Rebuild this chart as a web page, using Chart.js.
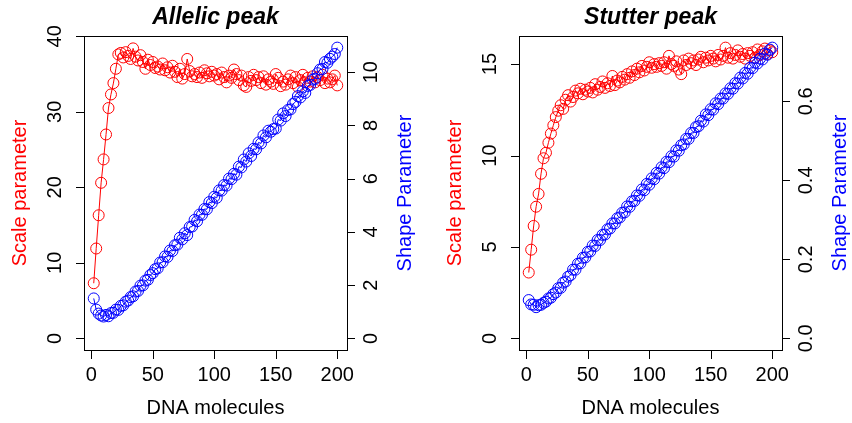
<!DOCTYPE html>
<html>
<head>
<meta charset="utf-8">
<script src="https://cdn.jsdelivr.net/npm/chart.js@4.4.1/dist/chart.umd.min.js"></script>
<style>
  html, body { margin: 0; padding: 0; background: #fff; overflow: hidden; }
  #wrap { position: relative; width: 852px; height: 423px; overflow: hidden; }
  canvas { position: absolute; top: 0; }
</style>
</head>
<body>
<div id="wrap">
  <canvas id="allelic" width="426" height="423" style="left:0px"></canvas>
  <canvas id="stutter" width="417" height="423" style="left:435px"></canvas>
</div>
<script>
// DNA molecules (x), shared by both panels
const molecules = [2,4,6,8,10,12,14,16,18,20,22,24,26,28,30,32,34,36,38,40,
  42,44,46,48,50,52,54,56,58,60,62,64,66,68,70,72,74,76,78,80,
  82,84,86,88,90,92,94,96,98,100,102,104,106,108,110,112,114,116,118,120,
  122,124,126,128,130,132,134,136,138,140,142,144,146,148,150,152,154,156,158,160,
  162,164,166,168,170,172,174,176,178,180,182,184,186,188,190,192,194,196,198,200];

// Allelic peak
const allelicScale = [7.3,11.9,16.3,20.6,23.7,27.0,30.5,32.3,33.8,35.7,
  37.6,37.8,37.2,37.9,37.4,37.0,38.4,37.3,36.8,37.5,
  36.6,35.7,36.9,36.2,36.6,35.8,36.0,35.6,36.4,35.5,
  35.9,35.2,36.1,35.3,34.6,35.7,34.4,35.0,37.0,35.4,
  34.7,35.0,34.6,35.2,34.5,35.5,35.1,34.7,35.3,34.8,
  35.0,34.3,35.2,34.6,33.9,34.8,34.5,35.6,35.0,34.2,
  34.8,33.5,33.3,34.6,34.1,34.9,34.2,34.6,33.8,34.7,
  33.6,34.3,34.0,33.7,35.0,34.5,33.4,34.0,33.6,34.3,
  34.8,33.8,34.6,33.3,34.2,34.9,33.9,34.5,34.0,34.7,
  33.9,34.6,34.2,34.9,33.8,34.4,33.9,34.3,34.8,33.5];
const allelicShape = [1.50,1.08,0.93,0.86,0.82,0.88,0.83,0.95,0.96,1.08,
  1.07,1.22,1.24,1.38,1.42,1.55,1.58,1.76,1.78,1.98,
  1.99,2.17,2.20,2.38,2.45,2.60,2.63,2.85,2.86,3.08,
  3.06,3.30,3.28,3.50,3.52,3.78,3.72,3.95,3.88,4.18,
  4.20,4.45,4.40,4.65,4.64,4.86,4.85,5.12,5.08,5.32,
  5.28,5.56,5.55,5.76,5.74,6.00,5.98,6.18,6.15,6.45,
  6.42,6.72,6.64,6.95,6.85,7.12,7.10,7.36,7.32,7.62,
  7.55,7.80,7.76,7.86,7.88,8.22,8.18,8.45,8.35,8.58,
  8.60,8.80,8.88,9.10,9.05,9.28,9.22,9.48,9.52,9.72,
  9.75,9.96,10.10,10.12,10.38,10.35,10.50,10.58,10.68,10.92];

// Stutter peak
const stutterScale = [3.6,4.85,6.15,7.2,7.9,9.0,9.85,10.15,10.7,11.2,
  11.65,12.1,12.45,12.75,12.55,13.05,13.3,12.95,13.2,13.55,
  13.4,13.65,13.35,13.6,13.5,13.7,13.45,13.9,13.6,13.75,
  14.05,13.7,13.95,13.8,14.35,13.85,14.1,14.0,14.3,14.15,
  14.45,14.25,14.6,14.4,14.75,14.55,14.9,14.65,14.85,15.1,
  14.8,15.0,14.85,15.05,14.9,15.1,14.75,15.45,15.0,14.9,
  15.15,14.7,14.45,15.2,14.95,15.3,15.05,15.2,14.95,15.25,
  15.4,15.1,15.35,15.2,15.45,15.3,15.15,15.5,15.25,15.45,
  15.9,15.35,15.6,15.3,15.5,15.75,15.4,15.55,15.3,15.6,
  15.45,15.65,15.35,15.8,15.5,15.7,15.85,15.55,15.75,15.65];
const stutterShape = [0.097,0.086,0.085,0.079,0.084,0.085,0.090,0.093,0.101,0.103,
  0.112,0.116,0.127,0.128,0.141,0.144,0.156,0.160,0.174,0.174,
  0.189,0.190,0.204,0.205,0.219,0.220,0.235,0.234,0.249,0.249,
  0.262,0.263,0.276,0.278,0.291,0.291,0.304,0.306,0.318,0.319,
  0.334,0.333,0.347,0.348,0.362,0.361,0.377,0.375,0.391,0.389,
  0.405,0.403,0.419,0.417,0.433,0.431,0.447,0.446,0.461,0.460,
  0.476,0.475,0.489,0.491,0.505,0.505,0.520,0.520,0.535,0.537,
  0.551,0.549,0.567,0.565,0.580,0.579,0.595,0.593,0.607,0.607,
  0.620,0.619,0.633,0.632,0.646,0.645,0.660,0.658,0.672,0.670,
  0.685,0.684,0.698,0.696,0.708,0.706,0.721,0.718,0.731,0.736];

// tick labels
const xTicks = [0, 50, 100, 150, 200];
const allelicScaleTicks = ['0', '10', '20', '30', '40'];
const allelicShapeTicks = ['0', '2', '4', '6', '8', '10'];
const stutterScaleTicks = ['0', '5', '10', '15'];
const stutterShapeTicks = ['0.0', '0.2', '0.4', '0.6'];

const FONT = "'Liberation Sans', Arial, Helvetica, sans-serif";

function rText(ctx, txt, x, y, color, font) {
    ctx.save();
    ctx.translate(x, y);
    ctx.rotate(-Math.PI / 2);
    ctx.fillStyle = color;
    ctx.font = font;
    ctx.textAlign = 'center';
    ctx.textBaseline = 'middle';
    ctx.fillText(txt, 0, 0);
    ctx.restore();
}

// R style frame, ticks and labels
const rAxes = {
    id: 'rAxes',
    afterDraw(chart, args, opts) {
        const ctx = chart.ctx;
        const a = chart.chartArea;
        const sx = chart.scales.x, yl = chart.scales.yScale, yr = chart.scales.yShape;
        const midY = (a.top + a.bottom) / 2;
        ctx.save();
        ctx.strokeStyle = '#000';
        ctx.lineWidth = 1;
        ctx.strokeRect(Math.round(a.left) + 0.5, Math.round(a.top) + 0.5,
            Math.round(a.right - a.left), Math.round(a.bottom - a.top));

        ctx.beginPath();
        xTicks.forEach(v => {
            const px = Math.round(sx.getPixelForValue(v)) + 0.5;
            ctx.moveTo(px, a.bottom); ctx.lineTo(px, a.bottom + 9);
        });
        opts.leftTicks.forEach(t => {
            const py = Math.round(yl.getPixelForValue(parseFloat(t))) + 0.5;
            ctx.moveTo(a.left, py); ctx.lineTo(a.left - 8, py);
        });
        opts.rightTicks.forEach(t => {
            const py = Math.round(yr.getPixelForValue(parseFloat(t))) + 0.5;
            ctx.moveTo(a.right, py); ctx.lineTo(a.right + 8, py);
        });
        ctx.stroke();

        ctx.fillStyle = '#000';
        ctx.font = '20px ' + FONT;
        ctx.textAlign = 'center';
        ctx.textBaseline = 'middle';
        xTicks.forEach(v => ctx.fillText(String(v), sx.getPixelForValue(v), 375));
        opts.leftTicks.forEach(t => rText(ctx, t, a.left - 29, yl.getPixelForValue(parseFloat(t)), '#000', '20px ' + FONT));
        opts.rightTicks.forEach(t => rText(ctx, t, a.right + 24, yr.getPixelForValue(parseFloat(t)), '#000', '20px ' + FONT));

        ctx.fillText('DNA molecules', (a.left + a.right) / 2, 408);
        ctx.font = 'italic bold 23px ' + FONT;
        ctx.fillText(opts.title, (a.left + a.right) / 2, 18);
        rText(ctx, 'Scale parameter', 20, midY, '#ff0000', '20px ' + FONT);
        rText(ctx, 'Shape Parameter', a.right + 58, midY, '#0000ff', '20px ' + FONT);
        ctx.restore();
    }
};

function makePanel(id, title, scaleVals, shapeVals, scaleRange, shapeRange, leftTicks, rightTicks) {
    const ds = (vals, color, axis, order) => ({
        data: molecules.map((m, i) => ({ x: m, y: vals[i] })),
        yAxisID: axis,
        order: order,
        borderColor: color,
        borderWidth: 1,
        backgroundColor: 'transparent',
        pointRadius: 5.5,
        pointBorderWidth: 1,
        pointBorderColor: color,
        pointBackgroundColor: 'transparent',
        tension: 0
    });
    return new Chart(document.getElementById(id), {
        type: 'line',
        data: {
            datasets: [
                ds(scaleVals, '#ff0000', 'yScale', 2),
                ds(shapeVals, '#0000ff', 'yShape', 1)
            ]
        },
        options: {
            responsive: false,
            animation: false,
            layout: { padding: { left: 84, top: 36, right: id === 'allelic' ? 79 : 70, bottom: 73 } },
            plugins: {
                legend: { display: false },
                tooltip: { enabled: false },
                rAxes: { title: title, leftTicks: leftTicks, rightTicks: rightTicks }
            },
            scales: {
                x: { type: 'linear', min: -5.92, max: 207.92, display: false },
                yScale: { type: 'linear', position: 'left', min: scaleRange[0], max: scaleRange[1], display: false },
                yShape: { type: 'linear', position: 'right', min: shapeRange[0], max: shapeRange[1], display: false }
            }
        },
        plugins: [rAxes]
    });
}

makePanel('allelic', 'Allelic peak', allelicScale, allelicShape,
    [-1.54, 40.04], [-0.437, 11.357], allelicScaleTicks, allelicShapeTicks);
makePanel('stutter', 'Stutter peak', stutterScale, stutterShape,
    [-0.636, 16.536], [-0.0294, 0.7654], stutterScaleTicks, stutterShapeTicks);
</script>
</body>
</html>
